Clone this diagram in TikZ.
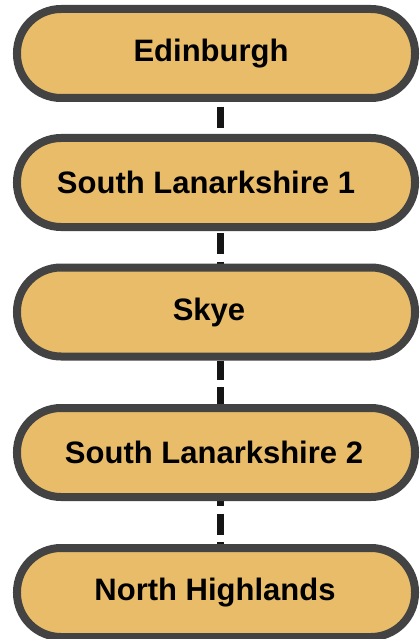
\documentclass[tikz,border=0pt]{standalone}
\usepackage{fontspec}
\setmainfont{Liberation Sans}
\usetikzlibrary{backgrounds}
\definecolor{boxfill}{HTML}{E9BC6A}
\definecolor{boxline}{HTML}{434343}
\definecolor{linkcol}{HTML}{151515}
\tikzset{
  placebox/.style={draw=boxline, fill=boxfill, line width=8bp, rounded corners=44bp,
    minimum width=398bp, minimum height=89bp, inner sep=0pt,
    font=\fontsize{31bp}{36bp}\selectfont\bfseries, text=black},
  linkline/.style={draw=linkcol, line width=7bp, dash pattern=on 21bp off 7.5bp}
}
\begin{document}
\begin{tikzpicture}[x=1bp,y=-1bp]
\useasboundingbox (0,0) rectangle (419,639);
\node[placebox] (n1) at (216,53.5) {\hspace*{-10bp}Edinburgh};
\node[placebox] (n2) at (216,182.5) {\hspace*{-20bp}South Lanarkshire 1};
\node[placebox] (n3) at (216,312) {\hspace*{-14bp}Skye};
\node[placebox] (n4) at (216,452.5) {\hspace*{-4bp}South Lanarkshire 2};
\node[placebox] (n5) at (216,592.5) {\hspace*{-2bp}North Highlands};
\begin{scope}[on background layer]
\draw[linkline, dash phase=23.8bp] ([xshift=4bp]n1.south) -- ([xshift=4bp]n2.north);
\draw[linkline, dash phase=26.5bp] ([xshift=4bp]n2.south) -- ([xshift=4bp]n3.north);
\draw[linkline, dash phase=2bp] ([xshift=4bp]n3.south) -- ([xshift=4bp]n4.north);
\draw[linkline, dash phase=15.7bp] ([xshift=4bp]n4.south) -- ([xshift=4bp]n5.north);
\end{scope}
\end{tikzpicture}
\end{document}
